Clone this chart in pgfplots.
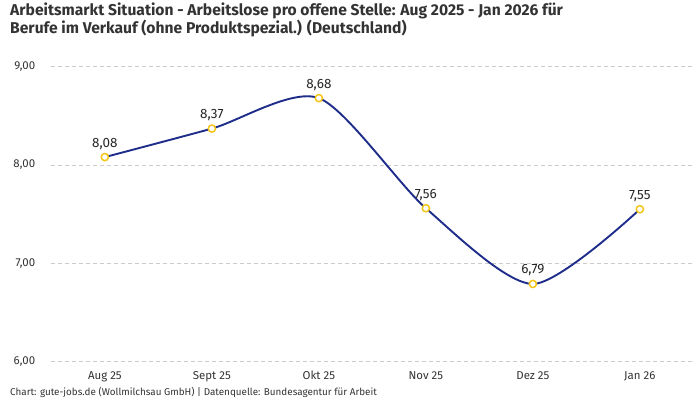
\documentclass[border=0pt]{standalone}
\usepackage{pgfplots}
\pgfplotsset{compat=1.18}
\usepackage{fontspec}
\setmainfont{Fira Sans}
\definecolor{linecol}{HTML}{1F2D8A}
\definecolor{markcol}{HTML}{F5C518}
\definecolor{txt}{HTML}{333333}
\definecolor{gridcol}{HTML}{CCCCCC}

\begin{document}
\begin{tikzpicture}[x=1bp,y=1bp]
\path[use as bounding box] (0,0) rectangle (700,400);
% title, two lines
\node[anchor=base west, inner sep=0, text=txt, font=\bfseries\fontsize{15.7}{18}\selectfont]
  at (10,385) {Arbeitsmarkt Situation - Arbeitslose pro offene Stelle: Aug 2025 - Jan 2026 für};
\node[anchor=base west, inner sep=0, text=txt, font=\bfseries\fontsize{15.7}{18}\selectfont]
  at (10,367) {Berufe im Verkauf (ohne Produktspezial.) (Deutschland)};
\begin{axis}[
    at={(48,39)}, anchor=south west,
    scale only axis, width=642bp, height=295bp,
    xmin=-0.5, xmax=5.5, ymin=6, ymax=9,
    xtick={0,...,5},
    xticklabels={Aug 25, Sept 25, Okt 25, Nov 25, Dez 25, Jan 26},
    ytick={6,7,8,9},
    yticklabels={{6,00},{7,00},{8,00},{9,00}},
    axis line style={draw=none},
    tick style={draw=none},
    ymajorgrids=true,
    major grid style={gridcol, dash pattern=on 4bp off 3bp, line width=0.8bp},
    xticklabel style={font=\fontsize{11.5}{13}\selectfont, text=txt, yshift=-6bp},
    yticklabel style={font=\fontsize{11.5}{13}\selectfont, text=txt, anchor=east,
      inner sep=0pt, xshift=-16bp},
    /pgf/number format/assume math mode=true,
    /pgf/number format/use comma,
    /pgf/number format/fixed,
    /pgf/number format/fixed zerofill,
    /pgf/number format/precision=2,
    nodes near coords,
    nodes near coords style={anchor=base, yshift=10bp, text=black!85,
      font=\fontsize{13.5}{15}\selectfont},
    clip=false,
  ]
  \addplot[linecol, line width=1.9bp, smooth, tension=0.45,
    mark=*, mark size=3.6bp,
    mark options={fill=white, draw=markcol, line width=1.5bp, solid}]
    coordinates {(0,8.08) (1,8.37) (2,8.68) (3,7.56) (4,6.79) (5,7.55)};
\end{axis}
\node[anchor=base west, inner sep=0, text=txt, font=\fontsize{9.9}{11}\selectfont]
  at (10,5) {Chart: gute-jobs.de (Wollmilchsau GmbH) | Datenquelle: Bundesagentur für Arbeit};
\end{tikzpicture}
\end{document}
